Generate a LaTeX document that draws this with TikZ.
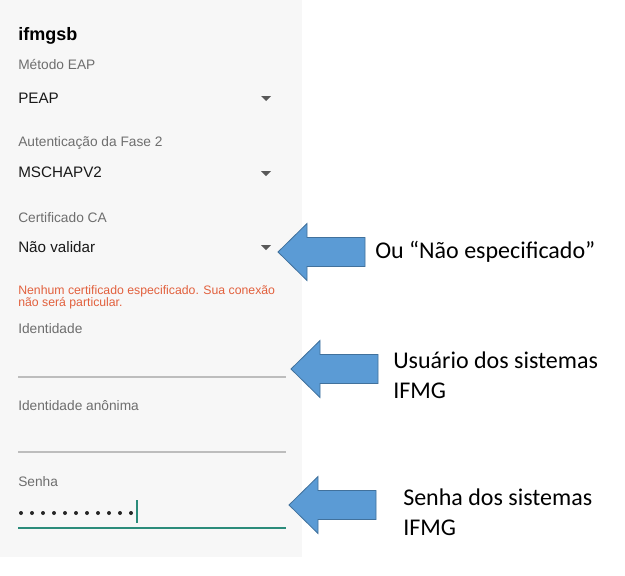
\documentclass[tikz,border=0pt]{standalone}
\usepackage{fontspec}
\setmainfont{Carlito}
\newfontfamily\uifont{Liberation Sans}
\usetikzlibrary{positioning}
\usepackage{xcolor}
\definecolor{panelgray}{HTML}{F7F7F7}
\definecolor{labelgray}{HTML}{6E6E6E}
\definecolor{warnred}{HTML}{E2603D}
\definecolor{fieldline}{HTML}{BDBDBD}
\definecolor{accent}{HTML}{2B8C7B}
\definecolor{arrowfill}{HTML}{5B9BD5}
\definecolor{arrowedge}{HTML}{41719C}

\tikzset{
    label/.style={anchor=west,inner sep=0,font=\uifont\fontsize{10.3}{12}\selectfont,text=labelgray},
    value/.style={anchor=west,inner sep=0,font=\uifont\fontsize{11.4}{13}\selectfont,text=black!90},
    warn/.style={anchor=west,inner sep=0,font=\uifont\fontsize{9.2}{11}\selectfont,text=warnred},
    note/.style={anchor=west,inner sep=0,align=left,font=\fontsize{18}{22.5}\selectfont},
    drop/.style={fill=black!65},
    callout/.style={fill=arrowfill,draw=arrowedge,line width=0.6pt}
}

\begin{document}
\begin{tikzpicture}[x=0.75pt,y=-0.75pt]
            \useasboundingbox (0,0) rectangle (625,575);
            \fill [panelgray] (0,0) rectangle (302,557);

            % screen texts
            \node [anchor=west,inner sep=0,font=\uifont\bfseries\fontsize{13.5}{15}\selectfont] (ssid) at (18,36) {ifmgsb};
            \node [label] (eap) at (18,65) {Método EAP};
            \node [value] (peap) at (18,98) {PEAP};
            \node [label] (fase) at (18,143) {Autenticação da Fase 2};
            \node [value] (mschap) at (18,172) {MSCHAPV2};
            \node [label] (cert) at (18,218) {Certificado CA};
            \node [value] (naoval) at (18,247) {Não validar};
            \node [warn] (warn1) at (18,291) {Nenhum certificado especificado. Sua conexão};
            \node [warn] (warn2) at (18,303) {não será particular.};
            \node [label] (ident) at (18,329) {Identidade};
            \node [label] (anon) at (18,406) {Identidade anônima};
            \node [label] (senha) at (18,482) {Senha};

            % dropdown marks
            \foreach \y in {96,171,245}
                \fill [drop] (261,\y) -- (271,\y) -- (266,\y+5) -- cycle;

            % input lines
            \draw [fieldline, line width=1.5pt] (18,377) -- (286,377);
            \draw [fieldline, line width=1.5pt] (18,452) -- (286,452);
            \foreach \i in {0,...,10}
                \fill [black!85] (21+11*\i,513) circle (1.5pt);
            \draw [accent, line width=1.5pt] (137,500) -- (137,523);
            \draw [accent, line width=1.6pt] (18,528) -- (286,528);

            % arrows
            \coordinate (tip1) at (278,252);
            \coordinate (tip2) at (291,369);
            \coordinate (tip3) at (289,505);
            \foreach \t in {tip1,tip2,tip3}
                \draw [callout] (\t) -- ++(29,-28.5) -- ++(0,14) -- ++(58,0) -- ++(0,29) -- ++(-58,0) -- ++(0,14) -- cycle;

            \node [note] (ca) at (375,252) {Ou “Não especificado”};
            \node [note] (user) at (393,375) {Usuário dos sistemas\\IFMG};
            \node [note] (pass) at (403,512) {Senha dos sistemas\\IFMG};
        \end{tikzpicture}
\end{document}
